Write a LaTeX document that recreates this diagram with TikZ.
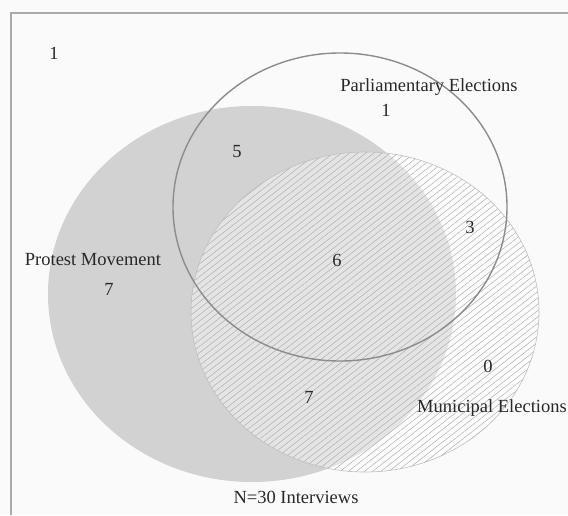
\documentclass[tikz,border=0pt]{standalone}
\usepackage{fontspec}
\setmainfont{Liberation Serif}
\usetikzlibrary{patterns.meta}

\definecolor{protestgray}{RGB}{210,210,210}
\definecolor{framegray}{RGB}{170,170,170}
\definecolor{hatchgray}{RGB}{175,175,175}
\definecolor{textgray}{RGB}{40,40,40}

\begin{document}
\begin{tikzpicture}[
  x=1pt, y=-1pt,
  font=\fontsize{18.5}{22}\selectfont,
  lbl/.style={text=textgray, inner sep=1pt},
  protest/.style={fill=protestgray},
  municipal/.style={fill=white, fill opacity=0.4},
  hatch/.style={pattern={Lines[angle=38, distance=5pt, line width=0.5pt]},
                pattern color=hatchgray},
  parl/.style={draw=gray!90, line width=1.4pt}
]
\useasboundingbox[fill=white!98!black] (0,0) rectangle (568,515);

% frame of the figure (right and bottom sides lie outside the crop)
\draw[framegray, line width=1.5pt] (11,515) -- (11,13) -- (568,13);

% the three sets
\fill[protest] (252,294) ellipse [x radius=204pt, y radius=188pt];
\fill[municipal] (365,312) ellipse [x radius=174pt, y radius=160pt];
\fill[hatch] (365,312) ellipse [x radius=174pt, y radius=160pt];
\draw[gray!50, line width=0.6pt] (365,312) ellipse [x radius=174pt, y radius=160pt];
\draw[parl] (340,207) ellipse [x radius=167pt, y radius=154pt];

% labels and counts
\node[lbl] (outside) at (54,53) {1};
\node[lbl] (parlname) at (429,87) {Parliamentary Elections};
\node[lbl] (parlonly) at (386,110) {1};
\node[lbl] (protparl) at (237,152) {5};
\node[lbl] (parlmun) at (470,227) {3};
\node[lbl] (protname) at (93,260) {Protest Movement};
\node[lbl] (protonly) at (109,289) {7};
\node[lbl] (allthree) at (337,260) {6};
\node[lbl] (munonly) at (488,366) {0};
\node[lbl] (protmun) at (309,397) {7};
\node[lbl] (munname) at (492,408) {Municipal Elections};
\node[lbl] (total) at (296,497) {N=30 Interviews};
\end{tikzpicture}
\end{document}
